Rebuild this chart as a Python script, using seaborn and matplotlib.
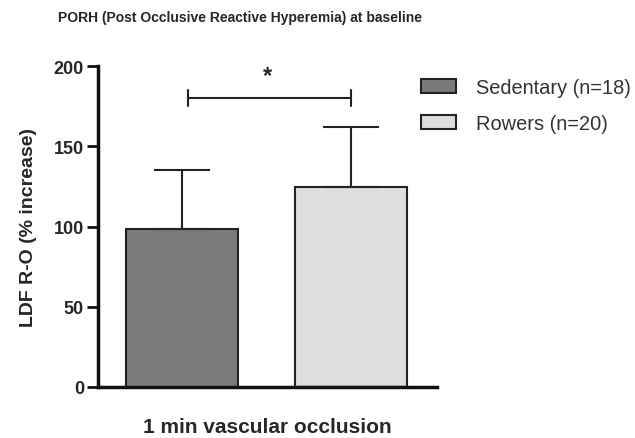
import matplotlib
matplotlib.use("Agg")
import matplotlib.pyplot as plt
import seaborn as sns
import pandas as pd
from matplotlib.patches import Patch

groups = ["Sedentary (n=18)", "Rowers (n=20)"]
means = [98.5, 124.5]
sds = [36.5, 37.5]
colors = ["#7a7a7a", "#dedede"]
yticks = [0, 50, 100, 150, 200]
sig_y = 180
sig_tick = 5
sig_label = "*"

sns.set_style("ticks")
plt.rcParams["font.family"] = ["Liberation Sans", "DejaVu Sans"]

df = pd.DataFrame({"group": groups, "mean": means})

fig = plt.figure(figsize=(6.35, 4.39), dpi=100)
ax = fig.add_axes([0.154, 0.1168, 0.534, 0.7299])

sns.barplot(data=df, x="group", y="mean", hue="group", palette=colors,
            width=0.665, edgecolor="#222222", linewidth=1.5, legend=False,
            errorbar=None, ax=ax)
ax.errorbar(x=[0, 1], y=means, yerr=[[0, 0], sds], fmt="none",
            ecolor="#222222", elinewidth=1.5, capsize=20, capthick=1.5, zorder=1)

ax.set_xlim(-0.5, 1.51)
ax.set_ylim(0, 200)
ax.set_yticks(yticks)
ax.set_yticklabels([str(t) for t in yticks], fontsize=13, fontweight="bold")
ax.set_xticks([])
ax.set_xlabel("1 min vascular occlusion", fontsize=15, fontweight="bold", labelpad=22)
ax.set_ylabel("LDF R-O (% increase)", fontsize=14, fontweight="bold", labelpad=12)
for s in ["top", "right"]:
    ax.spines[s].set_visible(False)
for s in ["left", "bottom"]:
    ax.spines[s].set_linewidth(2.5)
    ax.spines[s].set_color("#111111")
ax.tick_params(axis="y", length=8, width=2, color="#111111", pad=2)

# significance bracket
x0, x1 = 0.033, 1.0
ax.plot([x0, x1], [sig_y, sig_y], color="#222222", lw=1.5, clip_on=False)
ax.plot([x0, x0], [sig_y - sig_tick, sig_y + sig_tick], color="#222222", lw=1.5, clip_on=False)
ax.plot([x1, x1], [sig_y - sig_tick, sig_y + sig_tick], color="#222222", lw=1.5, clip_on=False)
ax.text((x0 + x1) / 2 - 0.01, sig_y + 7, sig_label, ha="center", va="bottom",
        fontsize=17, fontweight="bold")

handles = [Patch(facecolor=c, edgecolor="#222222", linewidth=1.5) for c in colors]
leg = fig.legend(handles, groups, loc="upper left", bbox_to_anchor=(0.634, 0.86),
                 frameon=False, fontsize=14.4, handlelength=1.75, handleheight=0.7,
                 handletextpad=1.0, labelspacing=0.85)
for t in leg.get_texts():
    t.set_color("#333333")

fig.text(0.0915, 0.96, "PORH (Post Occlusive Reactive Hyperemia) at baseline",
         fontsize=10, fontweight="bold", ha="left", va="center")

fig.savefig("out.png", dpi=100)
